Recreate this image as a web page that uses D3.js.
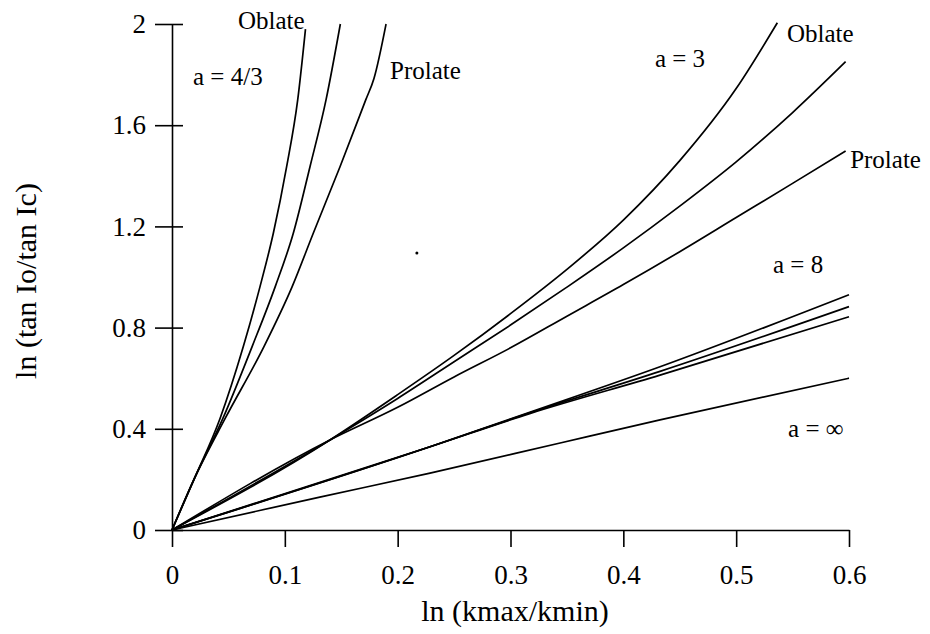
<html>
<head>
<meta charset="utf-8">
<script src="https://d3js.org/d3.v7.min.js"></script>
<style>
  body { margin: 0; background: #fff; }
  text { font-family: "Liberation Serif", "Times New Roman", serif; fill: #000; }
</style>
</head>
<body>
<svg width="930" height="634"></svg>
<script>
// tick values
const xTicks = [0, 0.1, 0.2, 0.3, 0.4, 0.5, 0.6];
const yTicks = [0, 0.4, 0.8, 1.2, 1.6, 2];

// a = 4/3
const a43OblateX  = [0, 0.02, 0.0425, 0.0632, 0.078, 0.0898, 0.1016, 0.1114, 0.1183];
const a43OblateY  = [0, 0.205, 0.44, 0.725, 0.962, 1.173, 1.436, 1.70, 1.98];
const a43MiddleX  = [0, 0.02, 0.045, 0.071, 0.0915, 0.1075, 0.1223, 0.1365, 0.1492];
const a43MiddleY  = [0, 0.205, 0.44, 0.725, 0.962, 1.173, 1.436, 1.70, 2.0];
const a43ProlateX = [0, 0.02, 0.047, 0.0815, 0.1065, 0.1252, 0.1489, 0.1717, 0.179, 0.1897];
const a43ProlateY = [0, 0.205, 0.44, 0.725, 0.962, 1.173, 1.436, 1.70, 1.785, 2.0];

// a = 3
const a3OblateX  = [0, 0.14, 0.2, 0.25, 0.3, 0.35, 0.4, 0.45, 0.5, 0.5365];
const a3OblateY  = [0, 0.356, 0.535, 0.69, 0.855, 1.03, 1.225, 1.46, 1.745, 2.005];
const a3MiddleX  = [0, 0.14, 0.2, 0.25, 0.3, 0.35, 0.4, 0.45, 0.5, 0.55, 0.597];
const a3MiddleY  = [0, 0.356, 0.52, 0.665, 0.81, 0.96, 1.115, 1.28, 1.455, 1.65, 1.851];
const a3ProlateX = [0, 0.14, 0.2, 0.25, 0.3, 0.35, 0.4, 0.45, 0.5, 0.55, 0.597];
const a3ProlateY = [0, 0.356, 0.485, 0.605, 0.72, 0.845, 0.97, 1.1, 1.235, 1.37, 1.498];

// a = 8
const a8TopX = [0, 0.2287, 0.317, 0.4325, 0.6];
const a8TopY = [0, 0.329, 0.465, 0.645, 0.93];
const a8MidX = [0, 0.2287, 0.317, 0.4325, 0.6];
const a8MidY = [0, 0.329, 0.463, 0.627, 0.883];
const a8LowX = [0, 0.2287, 0.317, 0.4325, 0.6];
const a8LowY = [0, 0.329, 0.46, 0.612, 0.843];

// a = infinity
const aInfX = [0, 0.131, 0.2287, 0.344, 0.4325, 0.6];
const aInfY = [0, 0.13, 0.225, 0.344, 0.435, 0.6];

const curves = [
  [a43OblateX, a43OblateY], [a43MiddleX, a43MiddleY], [a43ProlateX, a43ProlateY],
  [a3OblateX, a3OblateY], [a3MiddleX, a3MiddleY], [a3ProlateX, a3ProlateY],
  [a8TopX, a8TopY], [a8MidX, a8MidY], [a8LowX, a8LowY],
  [aInfX, aInfY]
];

// curve labels (anchor = left baseline, in data units)
const labelText = ["Oblate", "a = 4/3", "Prolate", "a = 3", "Oblate", "Prolate", "a = 8", "a = \u221E"];
const labelX    = [0.0585, 0.0186, 0.1932, 0.428, 0.545, 0.601, 0.5326, 0.546];
const labelY    = [1.98, 1.759, 1.783, 1.83, 1.929, 1.431, 1.016, 0.368];

const svg = d3.select("svg");
const x = d3.scaleLinear().domain([0, 0.6]).range([172, 849]);
const y = d3.scaleLinear().domain([0, 2]).range([530, 24]);

// x axis
svg.append("g").attr("transform", "translate(0,530)")
  .call(d3.axisBottom(x).tickValues(xTicks).tickSizeInner(17).tickSizeOuter(0).tickPadding(18)
        .tickFormat(d => d === 0 ? "0" : d3.format(".1f")(d)));
// y axis (outer ticks with labels)
svg.append("g").attr("transform", "translate(172,0)")
  .call(d3.axisLeft(y).tickValues(yTicks).tickSizeInner(17).tickSizeOuter(0).tickPadding(9)
        .tickFormat(d => (d === 0 || d === 2) ? String(d) : d3.format(".1f")(d)));
// y axis inner ticks
const gy2 = svg.append("g").attr("transform", "translate(172,0)")
  .call(d3.axisRight(y).tickValues(yTicks).tickSizeInner(11).tickSizeOuter(0).tickFormat(""));
gy2.select(".domain").remove();

svg.selectAll(".domain, .tick line").attr("stroke", "#000").attr("stroke-width", 1.6);
svg.selectAll(".tick text").attr("font-size", 27).attr("font-family", "Liberation Serif").attr("fill", "#000");

// axis titles
svg.append("text").attr("x", 515).attr("y", 621).attr("text-anchor", "middle")
  .attr("font-size", 30).text("ln (kmax/kmin)");
svg.append("text").attr("transform", "translate(36,281) rotate(-90)").attr("text-anchor", "middle")
  .attr("font-size", 30).text("ln (tan Io/tan Ic)");

// curves
const line = d3.line().x(d => x(d[0])).y(d => y(d[1])).curve(d3.curveMonotoneX);
svg.append("g").selectAll("path").data(curves).join("path")
  .attr("d", c => line(d3.zip(c[0], c[1])))
  .attr("fill", "none").attr("stroke", "#000").attr("stroke-width", 1.7)
  .attr("stroke-linejoin", "round");

// labels
svg.append("g").selectAll("text").data(labelText).join("text")
  .attr("x", (d, i) => x(labelX[i])).attr("y", (d, i) => y(labelY[i]))
  .attr("font-size", 25).text(d => d);

// stray speck in the scan
svg.append("circle").attr("cx", x(0.217)).attr("cy", y(1.095)).attr("r", 1.5).attr("fill", "#000");
</script>
</body>
</html>
